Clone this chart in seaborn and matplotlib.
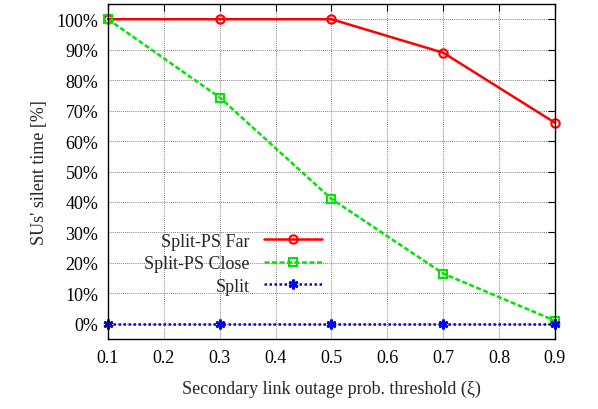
import pandas as pd
import matplotlib
matplotlib.use('Agg')
import matplotlib.pyplot as plt
from matplotlib.ticker import MultipleLocator, FuncFormatter
import seaborn as sns

# data
thresholds = [0.1, 0.3, 0.5, 0.7, 0.9]
far_silent = [100, 100, 100, 89, 66]
close_silent = [100, 74.3, 41, 16.5, 1]
split_silent = [0, 0, 0, 0, 0]
series_names = ['Split-PS Far', 'Split-PS Close', 'Split']

sns.set_style('white')
plt.rcParams['font.family'] = ['Liberation Serif', 'DejaVu Serif']

df = pd.DataFrame({
    'xi': thresholds * 3,
    'silent': far_silent + close_silent + split_silent,
    'scheme': [series_names[0]] * 5 + [series_names[1]] * 5 + [series_names[2]] * 5,
})

fig = plt.figure(figsize=(5.98, 4.10), dpi=100)
ax = fig.add_axes([0.1806, 0.1707, 0.928 - 0.1806, 0.9878 - 0.1707])

styles = {
    'Split-PS Far': dict(color='#ff0000', ls='-', marker='o', mfc='none', mec='#ff0000', ms=6, mew=1.5),
    'Split-PS Close': dict(color='#00e600', ls=(0, (2, 1)), marker='s', mfc='none', mec='#00e600', ms=6, mew=1.5),
    'Split': dict(color='#0000ff', ls=(0, (1, 1)), marker=(6, 2, 0), mec='#0000ff', ms=7, mew=2),
}
for name in series_names:
    sub = df[df['scheme'] == name]
    sns.lineplot(data=sub, x='xi', y='silent', ax=ax, label=name, lw=1.8, clip_on=False, **styles[name])

ax.set_xlim(0.1, 0.9)
ax.set_ylim(-5, 105)
ax.xaxis.set_major_locator(MultipleLocator(0.1))
ax.yaxis.set_major_locator(MultipleLocator(10))
ax.xaxis.set_major_formatter(FuncFormatter(lambda v, p: '%.1f' % v))
ax.yaxis.set_major_formatter(FuncFormatter(lambda v, p: '%d%%' % round(v)))
ax.grid(True, color='#555555', ls=(0, (1, 1.5)), lw=0.6)
ax.set_axisbelow(True)
ax.tick_params(direction='in', top=True, right=True, length=5, width=0.8,
               labelsize=13, pad=7, colors='black')
for s in ax.spines.values():
    s.set_color('black')
    s.set_linewidth(1.0)

ax.set_xlabel('Secondary link outage prob. threshold (ξ)', fontsize=13, labelpad=10)
ax.set_ylabel("SUs' silent time [%]", fontsize=13, labelpad=6)

leg = ax.legend(loc='center left', bbox_to_anchor=(0.045, 0.225), markerfirst=False,
                frameon=False, fontsize=13, handlelength=3.2, labelspacing=0.3,
                handletextpad=0.8)
for t in leg.get_texts():
    t.set_ha('right')
leg._legend_box.align = 'right'

fig.savefig('out.png', dpi=100)
